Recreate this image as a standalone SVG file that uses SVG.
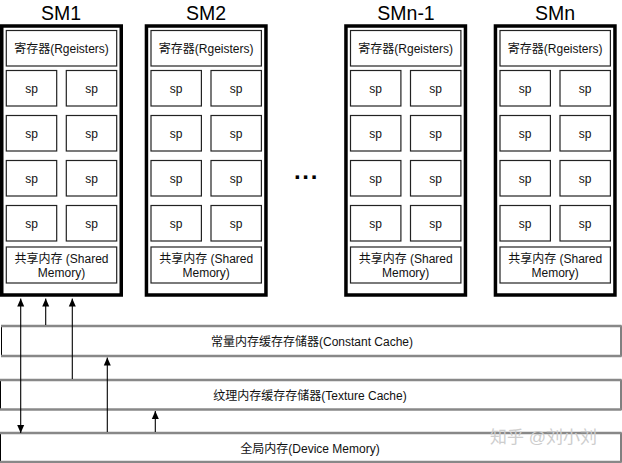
<svg xmlns="http://www.w3.org/2000/svg" width="622" height="463" viewBox="0 0 622 463">
<defs>
<style>
text{font-family:"Liberation Sans","Noto Sans CJK SC",Arial,sans-serif;fill:#111;}
.t{font-size:12px;text-anchor:middle;}
.title{font-size:19.5px;text-anchor:middle;fill:#000;}
.sm{fill:#fff;stroke:#000;stroke-width:3.5;}
.in{fill:#fff;stroke:#222;stroke-width:1.2;}
.bar{fill:#fff;stroke:#000;stroke-width:1;}
.edge{stroke:#888;stroke-width:2.5;}
.arr{stroke:#000;stroke-width:1.1;fill:none;}
.wm{font-size:17px;fill:#cdcdcd;}
</style>
<marker id="ah" viewBox="0 0 8 8" refX="8" refY="4" markerWidth="8" markerHeight="8" markerUnits="userSpaceOnUse" orient="auto-start-reverse">
<path d="M0,0.5 L8,4 L0,7.5 z" fill="#000"/>
</marker>
<g id="smtpl">
<rect class="sm" x="1.75" y="26" width="119.5" height="269"/>
<rect class="in" x="6.3" y="30.5" width="110.4" height="35.5"/>
<text class="t" x="61.5" y="52.5">寄存器(Rgeisters)</text>
<rect class="in" x="6.3" y="70.5" width="50.4" height="35.5"/>
<rect class="in" x="66.3" y="70.5" width="50.4" height="35.5"/>
<text class="t" x="31.5" y="92.5">sp</text>
<text class="t" x="91.5" y="92.5">sp</text>
<rect class="in" x="6.3" y="115.5" width="50.4" height="35.5"/>
<rect class="in" x="66.3" y="115.5" width="50.4" height="35.5"/>
<text class="t" x="31.5" y="137.5">sp</text>
<text class="t" x="91.5" y="137.5">sp</text>
<rect class="in" x="6.3" y="160.5" width="50.4" height="35.5"/>
<rect class="in" x="66.3" y="160.5" width="50.4" height="35.5"/>
<text class="t" x="31.5" y="182.5">sp</text>
<text class="t" x="91.5" y="182.5">sp</text>
<rect class="in" x="6.3" y="205.5" width="50.4" height="35.5"/>
<rect class="in" x="66.3" y="205.5" width="50.4" height="35.5"/>
<text class="t" x="31.5" y="227.5">sp</text>
<text class="t" x="91.5" y="227.5">sp</text>
<rect class="in" x="6.3" y="247" width="110.4" height="36"/>
<text class="t" x="61.5" y="262.5">共享内存 (Shared</text>
<text class="t" x="61.5" y="277">Memory)</text>
</g>
</defs>
<rect width="622" height="463" fill="#fff"/>

<g id="sm1">
<text class="title" x="61" y="20">SM1</text>
<use href="#smtpl" transform="translate(0,0)"/>
</g>
<g id="sm2">
<text class="title" x="206" y="20">SM2</text>
<use href="#smtpl" transform="translate(144.7,0)"/>
</g>
<g id="ellipsis">
<text x="294" y="179" style="font-size:24px;font-weight:bold;letter-spacing:1.7px;fill:#000;">...</text>
</g>
<g id="smn1">
<text class="title" x="406" y="20">SMn-1</text>
<use href="#smtpl" transform="translate(344.2,0)"/>
</g>
<g id="smn">
<text class="title" x="555" y="20">SMn</text>
<use href="#smtpl" transform="translate(493.7,0)"/>
</g>

<g id="constant-cache">
<rect class="bar" x="1.5" y="326" width="619.5" height="30"/>
<line class="edge" x1="1" y1="326" x2="621.5" y2="326"/>
<line class="edge" x1="1" y1="356" x2="621.5" y2="356"/>
<text class="t" x="312" y="346">常量内存缓存存储器(Constant Cache)</text>
</g>
<g id="texture-cache">
<rect class="bar" x="0.5" y="380" width="620.5" height="29.5"/>
<line class="edge" x1="0" y1="380" x2="621.5" y2="380"/>
<line class="edge" x1="0" y1="409.5" x2="621.5" y2="409.5"/>
<text class="t" x="310" y="400">纹理内存缓存存储器(Texture Cache)</text>
</g>
<g id="device-memory">
<rect class="bar" x="0.5" y="433" width="620.5" height="29"/>
<line class="edge" x1="0" y1="433" x2="621.5" y2="433"/>
<line class="edge" x1="0" y1="462" x2="621.5" y2="462"/>
<text class="t" x="310" y="452.5">全局内存(Device Memory)</text>
</g>

<g id="connectors">
<line class="arr" x1="20.7" y1="298.5" x2="20.7" y2="433" marker-start="url(#ah)" marker-end="url(#ah)"/>
<line class="arr" x1="45.7" y1="325" x2="45.7" y2="298.5" marker-end="url(#ah)"/>
<line class="arr" x1="72.3" y1="379" x2="72.3" y2="298.5" marker-end="url(#ah)"/>
<line class="arr" x1="107.3" y1="432" x2="107.3" y2="357.5" marker-end="url(#ah)"/>
<line class="arr" x1="155.3" y1="432" x2="155.3" y2="411" marker-end="url(#ah)"/>
</g>

<g id="watermark">
<text class="wm" x="490" y="443">知乎 @刘小刘</text>
</g>
</svg>
